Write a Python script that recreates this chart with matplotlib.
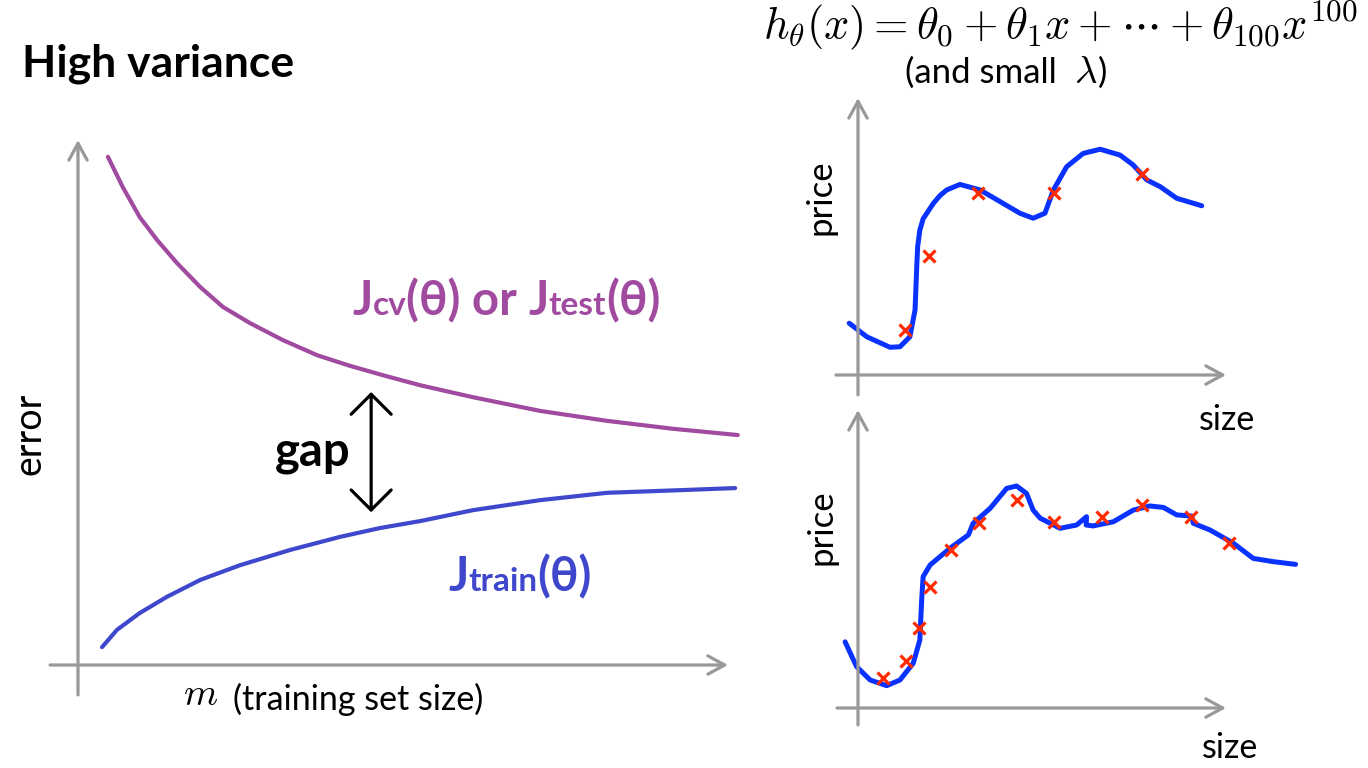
import numpy as np
import matplotlib
matplotlib.use('Agg')
import matplotlib.pyplot as plt

plt.rcParams['font.family'] = ['Lato', 'DejaVu Sans']
plt.rcParams['mathtext.fontset'] = 'cm'

# learning curve (m in 0..100, error in 0..100)
m_cv = [4.6, 6.9, 9.5, 12.2, 15.2, 18.8, 22.3, 26.5, 31.5, 36.8, 41.8, 46.9, 52.6, 60.8,
        71.1, 81.4, 91.5, 101.5]
j_cv = [96.8, 91.0, 85.3, 80.9, 76.6, 72.0, 68.2, 65.1, 61.9, 59.0, 57.0, 55.2, 53.3, 51.0,
        48.4, 46.5, 45.0, 43.8]
m_train = [3.7, 6.0, 9.5, 13.7, 18.8, 24.9, 32.6, 40.3, 46.5, 52.6, 60.8, 71.1, 81.4, 92.6, 101.1]
j_train = [3.4, 6.7, 9.9, 13.0, 16.2, 19.0, 21.9, 24.4, 26.1, 27.4, 29.5, 31.4, 32.8, 33.3, 33.7]

# top right: fitted curve and training examples
fit1_size = [-0.24, 0.24, 0.87, 1.14, 1.41, 1.55, 1.60, 1.62, 1.68, 1.77, 2.05, 2.23, 2.41, 2.77,
             3.32, 3.86, 4.40, 4.76, 5.08, 5.31, 5.67, 6.12, 6.58, 7.12, 7.48, 7.85, 8.21, 8.66,
             9.34]
fit1_price = [1.87, 1.38, 1.00, 1.02, 1.38, 2.35, 4.03, 4.62, 5.23, 5.64, 6.20, 6.48, 6.68, 6.88,
              6.68, 6.26, 5.84, 5.66, 5.84, 6.68, 7.52, 8.00, 8.15, 7.94, 7.58, 7.04, 6.80, 6.38,
              6.11]
pts1_size = [1.28, 1.93, 3.26, 5.33, 7.72]
pts1_price = [1.62, 4.30, 6.57, 6.57, 7.26]

# bottom right
fit2_size = [-0.35, -0.04, 0.33, 0.78, 1.14, 1.50, 1.68, 1.73, 1.77, 1.96, 2.50, 3.00, 3.13, 3.59,
             4.04, 4.31, 4.58, 4.76, 4.95, 5.49, 5.94, 6.21, 6.20, 6.39, 6.94, 7.48, 7.93, 8.30,
             8.66, 9.07, 9.11, 9.57, 10.20, 10.74, 11.29, 11.89]
fit2_price = [2.22, 1.39, 0.94, 0.75, 0.94, 1.50, 2.28, 3.62, 4.41, 4.80, 5.36, 5.81, 6.20, 6.70,
              7.37, 7.45, 7.20, 6.64, 6.37, 6.03, 6.14, 6.42, 6.14, 6.11, 6.25, 6.64, 6.78, 6.73,
              6.48, 6.44, 6.20, 5.97, 5.53, 5.02, 4.91, 4.82]
pts2_size = [0.68, 1.30, 1.66, 1.96, 2.53, 3.29, 4.32, 5.33, 6.63, 7.72, 9.04, 10.08]
pts2_price = [1.01, 1.58, 2.68, 4.06, 5.30, 6.21, 6.98, 6.24, 6.41, 6.81, 6.41, 5.54]

W, H = 1368, 768
GRAY = '#999999'
CV = '#A04AA0'
TRAIN = '#3F48CC'
BLUE = '#0A32FF'
RED = '#FF2A00'

fig = plt.figure(figsize=(W / 100, H / 100), dpi=100)
r = fig.canvas.get_renderer()


def make_axes(x0, y0, w, h, xlo, ylo):
    # x0,y0 = origin in pixels (from top-left), w,h = arrow lengths
    ax = fig.add_axes([x0 / W, 1 - y0 / H, w / W, h / H])
    ax.set_xlim(0, 10)
    ax.set_ylim(0, 10)
    ax.axis('off')
    arrow = dict(arrowstyle='->,head_length=0.55,head_width=0.3', color=GRAY, lw=2.3,
                 mutation_scale=22, shrinkA=0, shrinkB=0)
    ax.annotate('', xy=(1, 0), xytext=(xlo, 0), xycoords='axes fraction', arrowprops=arrow)
    ax.annotate('', xy=(0, 1), xytext=(0, ylo), xycoords='axes fraction', arrowprops=arrow)
    return ax


line_kw = dict(clip_on=False, solid_capstyle='round', solid_joinstyle='round')

# left panel
ax = make_axes(78, 665, 650, 525, -0.043, -0.057)
ax.set_xlim(0, 100)
ax.set_ylim(0, 100)
ax.plot(m_cv, j_cv, color=CV, lw=3, **line_kw)
ax.plot(m_train, j_train, color=TRAIN, lw=3, **line_kw)
ax.annotate('', xy=(45.1, 52.0), xytext=(45.1, 29.1),
            arrowprops=dict(arrowstyle='<->,head_length=0.6,head_width=0.6', color='black',
                            lw=2.3, mutation_scale=24, shrinkA=0, shrinkB=0))

# top right panel
ax1 = make_axes(858, 375, 368, 277, -0.06, -0.072)
ax1.plot(fit1_size, fit1_price, color=BLUE, lw=3.6, **line_kw)
ax1.plot(pts1_size, pts1_price, 'x', color=RED, ms=9, mew=2.3, clip_on=False)

# bottom right panel
ax2 = make_axes(858, 708, 368, 298, -0.057, -0.057)
ax2.plot(fit2_size, fit2_price, color=BLUE, lw=3.6, **line_kw)
ax2.plot(pts2_size, pts2_price, 'x', color=RED, ms=9, mew=2.3, clip_on=False)


def put(x, y, s, **kw):
    return fig.text(x / W, 1 - y / H, s, **kw)


def runs(x, y, pieces, color):
    for s, size in pieces:
        t = put(x, y, s, fontsize=size, weight='bold', color=color, ha='left', va='baseline')
        x += t.get_window_extent(renderer=r).width


put(22, 76, 'High variance', fontsize=32, weight='bold', ha='left', va='baseline')
put(29, 434, 'error', fontsize=27, rotation=90, ha='center', va='center')
put(275, 465, 'gap', fontsize=34, weight='bold', ha='left', va='baseline')

runs(352, 315, [('J', 34), ('cv', 24), ('(θ) or ', 34), ('J', 34), ('test', 24), ('(θ)', 34)], CV)
runs(448, 591, [('J', 34), ('train', 24), ('(θ)', 34)], TRAIN)

put(183, 705, r'$m$', fontsize=28, ha='left', va='baseline')
put(233, 710, '(training set size)', fontsize=24.5, ha='left', va='baseline')

put(1060, 38, r'$h_\theta(x) = \theta_0 + \theta_1 x + \cdots + \theta_{100}x^{100}$',
    fontsize=32, ha='center', va='baseline')
t = put(905, 83, '(and small  ', fontsize=25, ha='left', va='baseline')
x = 905 + t.get_window_extent(renderer=r).width
t = put(x, 83, r'$\lambda$', fontsize=28, ha='left', va='baseline')
x += t.get_window_extent(renderer=r).width
put(x, 83, ')', fontsize=25, ha='left', va='baseline')

put(820, 197, 'price', fontsize=25, rotation=90, ha='center', va='center')
put(1227, 420, 'size', fontsize=24.5, ha='center', va='center')
put(822, 527, 'price', fontsize=25, rotation=90, ha='center', va='center')
put(1230, 748, 'size', fontsize=24.5, ha='center', va='center')

fig.savefig('out.png', dpi=100)
